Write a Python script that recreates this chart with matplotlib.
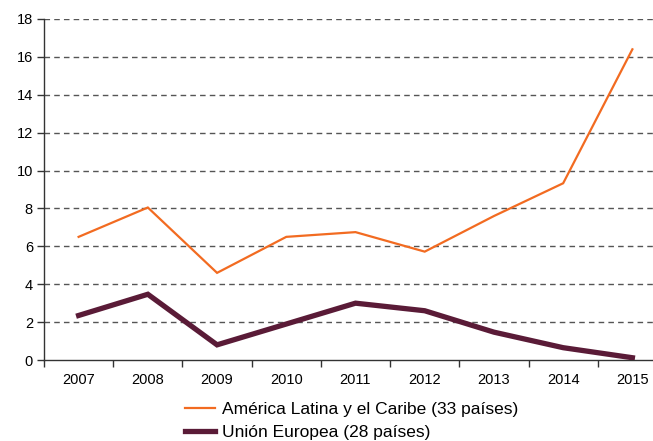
import numpy as np
import matplotlib as mpl
import matplotlib.pyplot as plt

mpl.rc('font', family='Liberation Sans', size=10.5)
mpl.rc('figure', facecolor='w')

years = ['2007', '2008', '2009', '2010', '2011', '2012', '2013', '2014', '2015']
latam = [6.5, 8.05, 4.6, 6.5, 6.75, 5.72, 7.6, 9.33, 16.4]
ue = [2.35, 3.47, 0.8, 1.9, 3.0, 2.6, 1.47, 0.65, 0.12]
labels = ['América Latina y el Caribe (33 países)', 'Unión Europea (28 países)']
yticks = np.arange(0, 19, 2)

fig = plt.figure(figsize=(6.53, 4.41), dpi=100)
W, H = 653.0, 441.0
ax = fig.add_axes([44 / W, (H - 360) / H, (667 - 44) / W, (360 - 19) / H])

x = np.arange(len(years))
ax.plot(x, latam, color='#F26B21', lw=1.6, solid_joinstyle='miter', zorder=3)
ax.plot(x, ue, color='#5A1B37', lw=3.8, solid_joinstyle='miter', zorder=3)

ax.set_xlim(-0.5, len(years) - 0.5)
ax.set_ylim(0, 18)
ax.set_yticks(yticks)
ax.set_xticks(x)
ax.set_xticklabels(years)
ax.set_xticks(np.arange(len(years) + 1) - 0.5, minor=True)
ax.tick_params(axis='x', which='major', length=0, pad=9)
ax.tick_params(axis='x', which='minor', length=5, width=1, color='#333333')
ax.tick_params(axis='y', length=5, width=1, color='#333333', pad=3)

for v in yticks[1:]:
    ax.axhline(v, color='#555555', lw=1, dashes=(4, 3), zorder=1)

for s in ['top', 'right']:
    ax.spines[s].set_visible(False)
for s in ['left', 'bottom']:
    ax.spines[s].set_color('#333333')
    ax.spines[s].set_linewidth(1)

h1 = mpl.lines.Line2D([], [], color='#F26B21', lw=1.6)
h2 = mpl.lines.Line2D([], [], color='#5A1B37', lw=3.8)
fig.legend([h1, h2], labels, loc='upper left', bbox_to_anchor=(176 / W, 1 - 393 / H),
           frameon=False, fontsize=12.5, handlelength=1.75, handletextpad=0.4,
           labelspacing=0.45, borderpad=0)

fig.savefig('out.png', dpi=100)
